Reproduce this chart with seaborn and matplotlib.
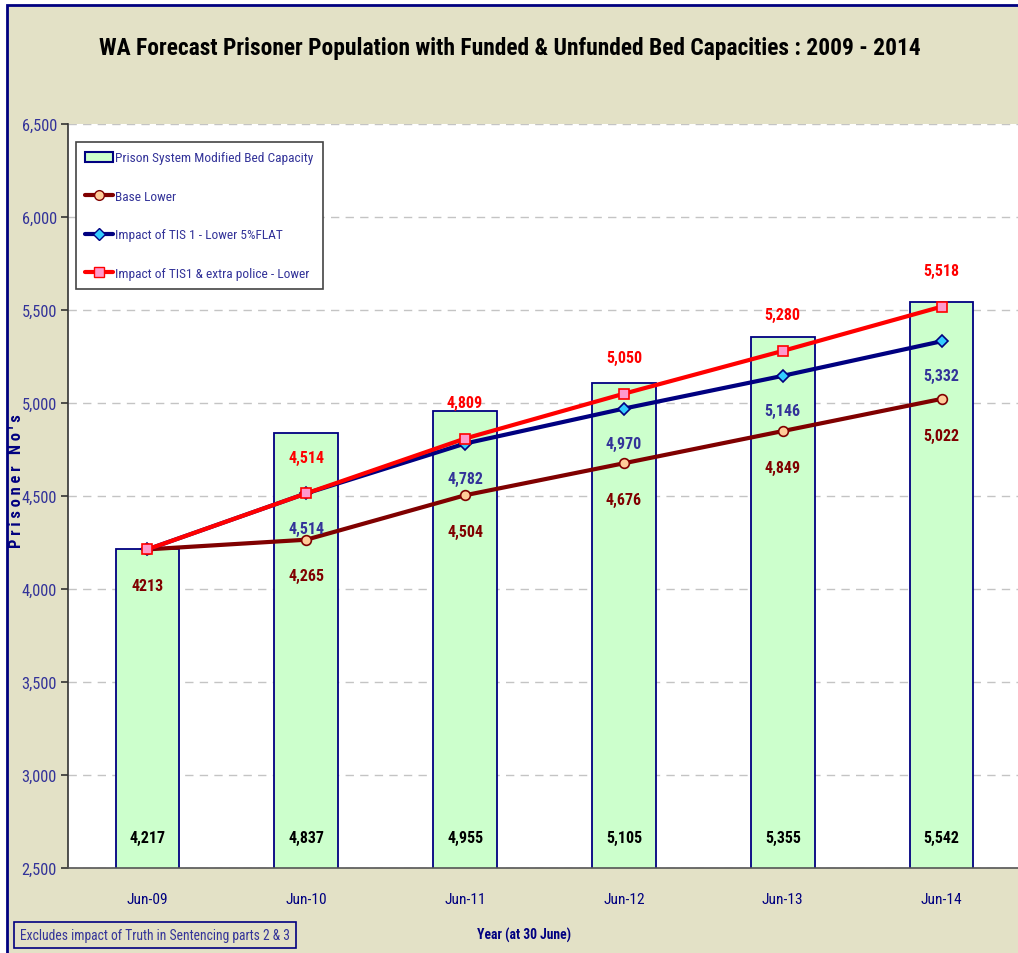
import matplotlib
matplotlib.use("Agg")
import matplotlib.pyplot as plt
import seaborn as sns
import pandas as pd
from matplotlib.patches import Rectangle, Patch
from matplotlib.lines import Line2D
from matplotlib.ticker import FuncFormatter, MultipleLocator
from matplotlib import font_manager
from matplotlib.font_manager import FontProperties

years = ["Jun-09", "Jun-10", "Jun-11", "Jun-12", "Jun-13", "Jun-14"]
bed_capacity = [4217, 4837, 4955, 5105, 5355, 5542]
base_lower = [4213, 4265, 4504, 4676, 4849, 5022]
tis1_lower = [4213, 4514, 4782, 4970, 5146, 5332]
tis1_police = [4213, 4514, 4809, 5050, 5280, 5518]
base_labels = ["4213", "4,265", "4,504", "4,676", "4,849", "5,022"]
legend_labels = ["Prison System Modified Bed Capacity", "Base Lower",
                 "Impact of TIS 1 - Lower 5%FLAT", "Impact of TIS1 & extra police - Lower"]

sns.set_theme(style="white")

# choose a narrow font if one is installed
entries = font_manager.fontManager.ttflist
names = {f.name for f in entries}
FAM = "Liberation Sans"
STRETCH = "normal"
for cand in ["Liberation Sans Narrow", "Arial Narrow", "Roboto Condensed",
             "Open Sans Condensed", "DejaVu Sans Condensed"]:
    if cand in names:
        FAM = cand
        break
else:
    if any(f.name == "DejaVu Sans" and str(f.stretch) in ("condensed", "semi-condensed")
           for f in entries):
        FAM = "DejaVu Sans"
        STRETCH = "condensed"
plt.rcParams["font.family"] = [FAM, "DejaVu Sans"]
plt.rcParams["font.stretch"] = STRETCH

TXT = "#333399"
NAVY = "#000080"
GROW = 1.18  # reference text is drawn taller than its width suggests

fig = plt.figure(figsize=(10.18, 9.54), dpi=100, facecolor="white")
renderer = fig.canvas.get_renderer()

def fit_size(s, target_px, weight="normal", base=12.0, grow=GROW):
    fp = FontProperties(family=[FAM, "DejaVu Sans"], weight=weight, size=base, stretch=STRETCH)
    w, h, d = renderer.get_text_width_height_descent(s, fp, ismath=False)
    return base * target_px / w * grow

bg = Rectangle((7 / 1018, -0.02), 1.1, 1 - 6 / 954 + 0.02,
               transform=fig.transFigure, facecolor="#e3e1c6",
               edgecolor=NAVY, linewidth=2, zorder=-10)
fig.patches.append(bg)

ax = fig.add_axes([68 / 1018, 1 - 869 / 954, 953 / 1018, 744 / 954])
ax.set_zorder(1)
ax.set_facecolor("white")

df = pd.DataFrame({"year": years, "cap": bed_capacity})
sns.barplot(data=df, x="year", y="cap", ax=ax, color="#ccffcc", width=0.40,
            edgecolor=NAVY, linewidth=1.3, saturation=1, zorder=2)

def line(vals, color, marker, mfc, ms, z):
    d = pd.DataFrame({"year": years, "v": vals})
    sns.lineplot(data=d, x="year", y="v", ax=ax, color=color, linewidth=3,
                 marker=marker, markersize=ms, markerfacecolor=mfc,
                 markeredgecolor=color, markeredgewidth=1.2, zorder=z, sort=False)

line(base_lower, "#800000", "o", "#ffcc99", 7, 4)
line(tis1_lower, NAVY, "D", "#33ccff", 6, 5)
line(tis1_police, "#ff0000", "s", "#ff99cc", 7, 6)

ax.set_xlim(-0.5, 5.5)
ax.set_ylim(2500, 6500)
ax.yaxis.set_major_locator(MultipleLocator(500))
ax.yaxis.set_major_formatter(FuncFormatter(lambda v, p: f"{int(v):,}"))
ax.grid(axis="y", color="#c4c4c4", linestyle=(0, (6, 4.5)), linewidth=1, zorder=0)
ax.set_axisbelow(True)
for s in ["top", "right"]:
    ax.spines[s].set_visible(False)
ax.spines["left"].set_color("#333333")
ax.spines["bottom"].set_color("#555555")
ax.spines["left"].set_linewidth(1.2)
ax.spines["bottom"].set_linewidth(1.2)

xt_size = fit_size("Jun-09", 35)
yt_size = fit_size("6,500", 30)
ax.set_xticks(range(6))
ax.set_xticklabels(years)
ax.tick_params(axis="x", length=0, pad=17, labelsize=xt_size, labelcolor=NAVY)
ax.set_xticks([0.5, 1.5, 2.5, 3.5, 4.5], minor=True)
ax.tick_params(axis="x", which="minor", length=5, width=1.2, color="#333333", direction="out")
ax.tick_params(axis="y", length=5, width=1.2, color="#333333", direction="out",
               labelsize=yt_size, labelcolor=TXT, pad=3, left=True)
ax.set_xlabel("")
ax.set_ylabel("")

lab_size = fit_size("4,217", 29, weight="bold", grow=1.25)
bold = dict(fontweight="bold", ha="center", va="center", fontsize=lab_size)
for i, v in enumerate(bed_capacity):
    ax.annotate(f"{v:,}", (i, 2500), xytext=(0, 22), textcoords="offset points",
                color="black", **bold, zorder=7)
for i, v in enumerate(base_lower):
    ax.annotate(base_labels[i], (i, v), xytext=(0, -26), textcoords="offset points",
                color="#800000", **bold, zorder=7)
for i, v in enumerate(tis1_lower):
    if i == 0:
        continue
    ax.annotate(f"{v:,}", (i, v), xytext=(0, -25), textcoords="offset points",
                color=TXT, **bold, zorder=7)
for i, v in enumerate(tis1_police):
    if i == 0:
        continue
    ax.annotate(f"{v:,}", (i, v), xytext=(0, 26), textcoords="offset points",
                color="#ff0000", **bold, zorder=7)

handles = [
    Patch(facecolor="#ccffcc", edgecolor=NAVY, linewidth=1.5),
    Line2D([], [], color="#800000", lw=3, marker="o", ms=7, mfc="#ffcc99", mec="#800000"),
    Line2D([], [], color=NAVY, lw=3, marker="D", ms=6, mfc="#33ccff", mec=NAVY),
    Line2D([], [], color="#ff0000", lw=3, marker="s", ms=7, mfc="#ff99cc", mec="#ff0000"),
]
leg_size = fit_size(legend_labels[0], 187, grow=1.06)
leg_px = leg_size * 100 / 72
leg = ax.legend(handles, legend_labels, loc="upper left", bbox_to_anchor=(0.0084, 0.976),
                frameon=True, fancybox=False, framealpha=1, edgecolor="#444444",
                fontsize=leg_size, labelcolor=TXT, labelspacing=(39 - leg_px) / leg_px,
                handlelength=28 / leg_px, handleheight=0.75, handletextpad=0.15,
                borderpad=0.7, borderaxespad=0)
leg.get_frame().set_linewidth(1.2)
leg.set_zorder(10)

title = "WA Forecast Prisoner Population with Funded & Unfunded Bed Capacities : 2009 - 2014"
fig.text(510 / 1018, 1 - 48 / 954, title, ha="center", va="center",
         fontsize=fit_size(title, 765, weight="bold", grow=1.08), fontweight="bold", color="black")
ylab = "P r i s o n e r   N o ' s"
fig.text(17 / 1018, 1 - 481 / 954, ylab, rotation=90,
         ha="center", va="center", fontsize=fit_size(ylab, 138, weight="bold", grow=0.98),
         fontweight="bold", color=NAVY)
xlab = "Year (at 30 June)"
fig.text(524 / 1018, 1 - 935 / 954, xlab, ha="center", va="center",
         fontsize=fit_size(xlab, 80, weight="bold"), fontweight="bold", color=NAVY)
note = "Excludes impact of Truth in Sentencing parts 2 & 3"
fig.text(20 / 1018, 1 - 936 / 954, note,
         ha="left", va="center", fontsize=fit_size(note, 257, grow=1.05), color=TXT,
         bbox=dict(boxstyle="square,pad=0.45", facecolor="none", edgecolor=NAVY, linewidth=1.2))

fig.savefig("out.png", dpi=100, facecolor="white")
